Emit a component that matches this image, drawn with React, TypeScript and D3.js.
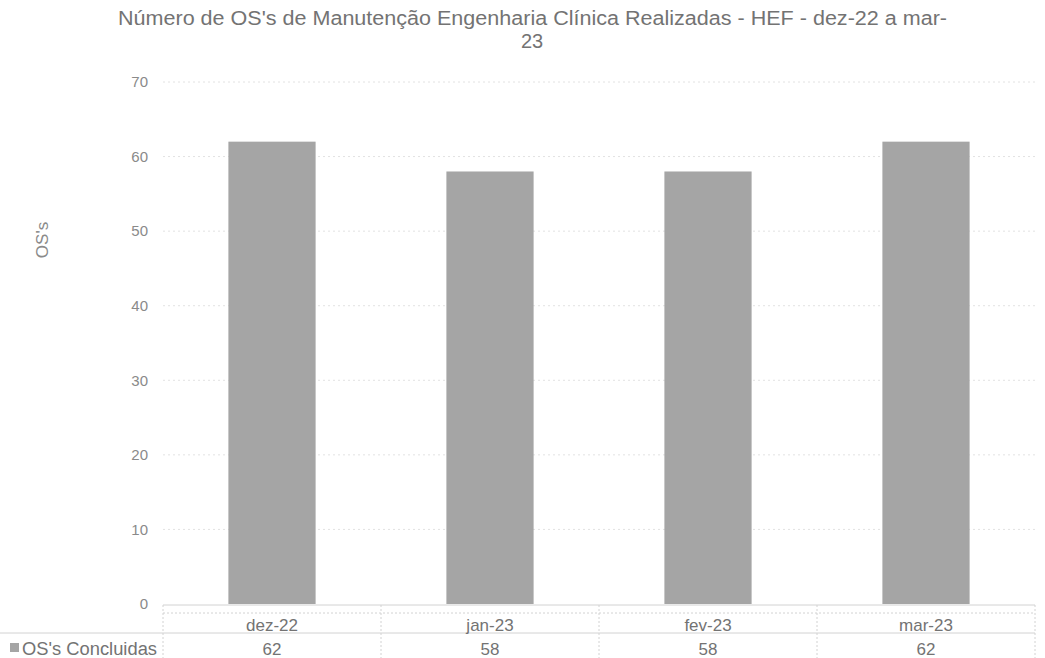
import * as d3 from "d3";
import { useEffect, useRef } from "react";

const categories = ["dez-22", "jan-23", "fev-23", "mar-23"];
const concluidas = [62, 58, 58, 62];
const yTicks = [0, 10, 20, 30, 40, 50, 60, 70];
const seriesName = "OS's Concluidas";
const titleLines = [
  "Número de OS's de Manutenção Engenharia Clínica Realizadas - HEF - dez-22 a mar-",
  "23",
];

export default function App() {
  const ref = useRef<SVGSVGElement | null>(null);

  useEffect(() => {
    const svg = d3.select(ref.current);
    svg.selectAll("*").remove();

    const width = 1045;
    const height = 658;
    const left = 163;
    const right = 1035;
    const textColor = "#737373";
    const font = "'Liberation Sans', Arial, sans-serif";

    svg.attr("width", width).attr("height", height);
    svg.append("rect").attr("width", width).attr("height", height).attr("fill", "#fff");

    const x = d3
      .scaleBand<string>()
      .domain(categories)
      .range([left, right])
      .paddingInner(0.6)
      .paddingOuter(0.3);
    const y = d3.scaleLinear().domain([0, 70]).range([604, 82]);

    // title (first line stretched to the scanned width)
    svg
      .append("g")
      .selectAll("text")
      .data(titleLines)
      .enter()
      .append("text")
      .attr("x", (d, i) => (i === 0 ? 118 : 532))
      .attr("y", (d, i) => 25 + i * 23)
      .attr("text-anchor", (d, i) => (i === 0 ? "start" : "middle"))
      .attr("textLength", (d, i) => (i === 0 ? 829 : null))
      .attr("lengthAdjust", "spacingAndGlyphs")
      .attr("fill", textColor)
      .style("font-family", font)
      .style("font-size", "20px")
      .text((d) => d);

    // grid
    svg
      .append("g")
      .selectAll("line")
      .data(yTicks.filter((t) => t > 0))
      .enter()
      .append("line")
      .attr("x1", left)
      .attr("x2", right)
      .attr("y1", (d) => y(d))
      .attr("y2", (d) => y(d))
      .attr("stroke", "#e2e2e2")
      .attr("stroke-dasharray", "2,3");

    // y tick labels
    svg
      .append("g")
      .selectAll("text")
      .data(yTicks)
      .enter()
      .append("text")
      .attr("x", 148)
      .attr("y", (d) => y(d))
      .attr("dy", "0.35em")
      .attr("text-anchor", "end")
      .attr("fill", "#8a8a8a")
      .style("font-family", font)
      .style("font-size", "15px")
      .text((d) => d);

    svg
      .append("text")
      .attr("transform", "translate(48,240) rotate(-90)")
      .attr("text-anchor", "middle")
      .attr("fill", "#8a8a8a")
      .style("font-family", font)
      .style("font-size", "17px")
      .text("OS's");

    // bars
    svg
      .append("g")
      .selectAll("rect")
      .data(concluidas)
      .enter()
      .append("rect")
      .attr("x", (d, i) => x(categories[i]) as number)
      .attr("y", (d) => y(d))
      .attr("width", x.bandwidth())
      .attr("height", (d) => y(0) - y(d))
      .attr("fill", "#a5a5a5");

    // data table
    const tbl = svg.append("g").attr("stroke", "#d2d2d2").attr("stroke-width", 1);
    tbl.append("line").attr("x1", left).attr("x2", right).attr("y1", 605).attr("y2", 605);
    tbl.append("line").attr("x1", left).attr("x2", right).attr("y1", 613).attr("y2", 613).attr("stroke-dasharray", "2,2");
    tbl.append("line").attr("x1", 0).attr("x2", right).attr("y1", 633).attr("y2", 633);
    const bounds = categories.map((c) => (x(c) as number) - (x.step() - x.bandwidth()) / 2);
    bounds.push(right);
    tbl
      .selectAll("line.v")
      .data(bounds)
      .enter()
      .append("line")
      .attr("class", "v")
      .attr("x1", (d) => d)
      .attr("x2", (d) => d)
      .attr("y1", 605)
      .attr("y2", height)
      .attr("stroke-dasharray", "2,2");

    svg
      .append("g")
      .selectAll("text")
      .data(categories)
      .enter()
      .append("text")
      .attr("x", (d) => (x(d) as number) + x.bandwidth() / 2)
      .attr("y", 631)
      .attr("text-anchor", "middle")
      .attr("fill", textColor)
      .style("font-family", font)
      .style("font-size", "17px")
      .text((d) => d);

    svg
      .append("g")
      .selectAll("text")
      .data(concluidas)
      .enter()
      .append("text")
      .attr("x", (d, i) => (x(categories[i]) as number) + x.bandwidth() / 2)
      .attr("y", 655)
      .attr("text-anchor", "middle")
      .attr("fill", textColor)
      .style("font-family", font)
      .style("font-size", "17px")
      .text((d) => d);

    // legend key + series name
    svg
      .append("rect")
      .attr("x", 10)
      .attr("y", 643)
      .attr("width", 9)
      .attr("height", 9)
      .attr("fill", "#a5a5a5");
    svg
      .append("text")
      .attr("x", 22)
      .attr("y", 655)
      .attr("textLength", 135)
      .attr("lengthAdjust", "spacingAndGlyphs")
      .attr("fill", textColor)
      .style("font-family", font)
      .style("font-size", "18px")
      .text(seriesName);
  }, []);

  return <svg ref={ref} style={{ position: "absolute", left: 0, top: 0 }}></svg>;
}
